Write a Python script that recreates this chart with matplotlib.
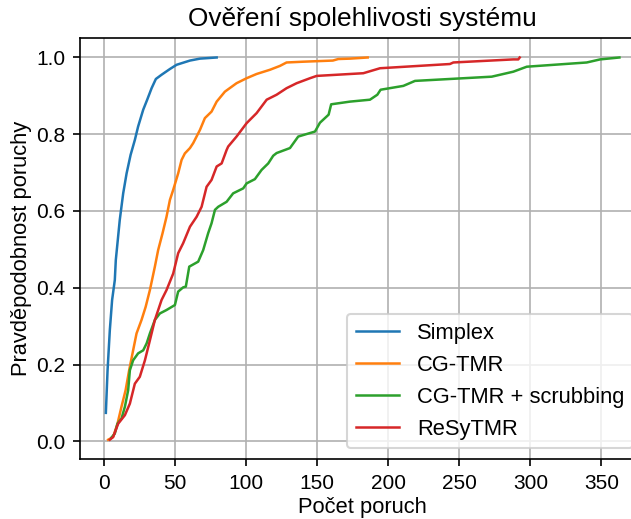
import matplotlib
matplotlib.use('Agg')
import matplotlib.pyplot as plt

plt.rcParams['font.family'] = ['Liberation Sans', 'DejaVu Sans']

# odhad z obrazku: pocet poruch vs. pravdepodobnost
simplex_x = [1.2, 2.4, 4.0, 5.6, 7.5, 8.2, 11, 13.4, 15.8, 18.6, 21.6, 23.9, 27.5,
             30.3, 33.4, 36.4, 40.4, 46.3, 51, 60.4, 67.4, 79.2]
simplex_y = [0.074, 0.185, 0.29, 0.368, 0.42, 0.472, 0.577, 0.646, 0.698, 0.746,
             0.785, 0.82, 0.864, 0.89, 0.92, 0.944, 0.955, 0.97, 0.981, 0.992,
             0.997, 1.0]

cgtmr_x = [2.8, 6.3, 9.4, 12.2, 15.1, 17.6, 20.4, 22.8, 26.3, 29.2, 32.2, 35.7,
           38, 41.1, 43.9, 46.3, 48.6, 52.1, 54.5, 56.8, 60.4, 62.7, 67.4, 70.9,
           75.6, 79.2, 85, 93.2, 100.3, 107.3, 116.7, 123.7, 128.4, 140, 161,
           164.8, 173, 185.5]
cgtmr_y = [0.004, 0.011, 0.046, 0.09, 0.133, 0.185, 0.237, 0.281, 0.316, 0.35,
           0.394, 0.455, 0.498, 0.542, 0.585, 0.629, 0.655, 0.698, 0.733, 0.75,
           0.764, 0.777, 0.811, 0.842, 0.859, 0.885, 0.911, 0.933, 0.946, 0.957,
           0.968, 0.978, 0.987, 0.989, 0.992, 0.996, 0.997, 1.0]

scrub_x = [5.2, 7.5, 9.4, 12.2, 14.6, 16.9, 18.1, 20.4, 23.9, 27.5, 29.9, 32.2,
           35.7, 39.2, 43.9, 49.8, 52.1, 55.6, 57.5, 59.9, 66.2, 69.7, 73.2, 75.6,
           78, 80.3, 86.2, 90.8, 97.9, 100.3, 106.1, 110.8, 115.5, 119, 121.4,
           130.8, 136.6, 148.4, 151.9, 158, 159.8, 173, 187.1, 192.3, 194.6,
           210.6, 218.8, 272.8, 288, 297.5, 339.7, 349.1, 362.7]
scrub_y = [0.01, 0.02, 0.046, 0.059, 0.09, 0.133, 0.185, 0.211, 0.229, 0.237,
           0.255, 0.281, 0.316, 0.333, 0.342, 0.355, 0.39, 0.401, 0.403, 0.455,
           0.468, 0.498, 0.542, 0.568, 0.603, 0.611, 0.624, 0.646, 0.659, 0.672,
           0.683, 0.707, 0.724, 0.744, 0.751, 0.764, 0.794, 0.807, 0.83, 0.851,
           0.878, 0.885, 0.89, 0.903, 0.916, 0.926, 0.939, 0.95, 0.963, 0.976,
           0.987, 0.995, 1.0]

resy_x = [4.0, 6.3, 9.9, 14.6, 18.1, 21.6, 25.1, 28.7, 32.2, 35.7, 40.4, 43.9,
          48.6, 52.1, 55.6, 60.4, 65.1, 68.6, 72.1, 75.6, 79.2, 82.7, 86.2, 87.3,
          93.2, 100.3, 107.3, 114.4, 121.4, 128.4, 135.5, 144.9, 149.6, 163.7,
          182.4, 194.2, 243.4, 245.8, 288, 291.5, 292.5]
resy_y = [0.004, 0.011, 0.046, 0.068, 0.098, 0.15, 0.168, 0.211, 0.263, 0.316,
          0.368, 0.394, 0.437, 0.49, 0.516, 0.559, 0.585, 0.611, 0.663, 0.681,
          0.716, 0.724, 0.759, 0.768, 0.794, 0.829, 0.855, 0.89, 0.903, 0.92,
          0.933, 0.946, 0.952, 0.955, 0.959, 0.972, 0.983, 0.987, 0.995, 0.995,
          1.0]

fig = plt.figure(figsize=(632 / 150, 519 / 150), dpi=150)
ax = fig.add_axes([80 / 632, 59.7 / 519, 564 / 632, 421 / 519])

lw = 1.2
ax.plot(simplex_x, simplex_y, lw=lw, label='Simplex')
ax.plot(cgtmr_x, cgtmr_y, lw=lw, label='CG-TMR')
ax.plot(scrub_x, scrub_y, lw=lw, label='CG-TMR + scrubbing')
ax.plot(resy_x, resy_y, lw=lw, label='ReSyTMR')

ax.set_xlim(-17, 380)
ax.set_ylim(-0.047, 1.05)
ax.set_xticks([0, 50, 100, 150, 200, 250, 300, 350])
ax.set_title('Ověření spolehlivosti systému', fontsize=12.6)
ax.set_xlabel('Počet poruch', fontsize=10.5, labelpad=2)
ax.set_ylabel('Pravděpodobnost poruchy', fontsize=10.5, labelpad=2)
ax.grid(True)
ax.legend(loc='lower right', fontsize=10.5)

fig.savefig('out.png', dpi=150)
